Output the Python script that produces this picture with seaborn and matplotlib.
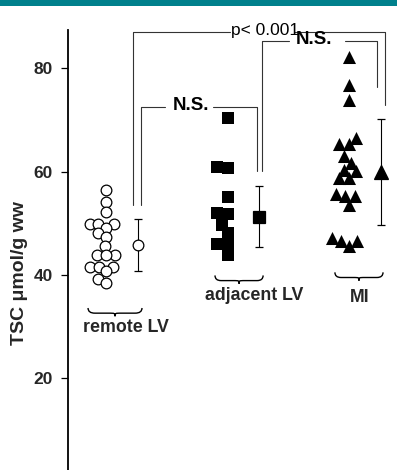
import numpy as np
import pandas as pd
import matplotlib
matplotlib.use("Agg")
import matplotlib.pyplot as plt
import seaborn as sns
from matplotlib.path import Path
from matplotlib.patches import PathPatch, Rectangle

# ---------------- data ----------------
groups = ["remote LV", "adjacent LV", "MI"]
remote_lv = [56.5, 54.2, 52.1, 49.9, 49.9, 49.9, 49.1, 48.1, 47.4, 45.5,
             43.9, 43.9, 43.9, 41.6, 41.6, 41.6, 40.7, 39.2, 38.5]
adjacent_lv = [70.3, 60.8, 60.6, 55.1, 52.0, 51.7, 49.7, 48.1, 46.0, 45.8, 43.9]
mi = [82.1, 76.7, 73.8, 66.5, 65.3, 65.3, 63.0, 61.7, 60.4, 60.1, 58.8, 58.8,
      55.6, 55.3, 55.3, 53.6, 47.2, 46.5, 46.5, 45.5]
group_means = [45.8, 51.3, 59.9]
group_sds = [5.1, 5.85, 10.2]
yticks = [0, 20, 40, 60, 80]
ylabel = "TSC \u03bcmol/g ww"
comparison_labels = ["N.S.", "N.S.", "p< 0.001"]

df = pd.DataFrame({
    "group": ["remote LV"] * len(remote_lv) + ["adjacent LV"] * len(adjacent_lv) + ["MI"] * len(mi),
    "value": remote_lv + adjacent_lv + mi,
})

# ---------------- style ----------------
sns.set_style("white")
plt.rcParams["font.family"] = ["Liberation Sans", "DejaVu Sans"]

W, H = 397, 470
fig = plt.figure(figsize=(W / 100, H / 100), dpi=100)
ax = fig.add_axes([68 / W, (H - 481.6) / H, (W - 68) / W, (481.6 - 30) / H])

markers = {"remote LV": "o", "adjacent LV": "s", "MI": "^"}
sizes = {"remote LV": 7.7, "adjacent LV": 9.0, "MI": 9.4}
layout_sizes = {"remote LV": 6.0, "adjacent LV": 7.0, "MI": 6.8}

swarms = []
for g in groups:
    sub = df[df["group"] == g]
    n_before = len(ax.collections)
    sns.swarmplot(data=sub, x="group", y="value", order=groups, ax=ax,
                  marker=markers[g], size=layout_sizes[g], color="black",
                  linewidth=0, warn_thresh=1)
    swarms.append((list(ax.collections[n_before:]), g))

ax.set_xlim(-0.313, 2.395)
ax.set_ylim(0, 87.4)

# let seaborn's beeswarm place points with a tight collision diameter,
# then redraw them at the full marker size (points overlap as in the source)
fig.canvas.draw()
for colls, g in swarms:
    pts = []
    for coll in colls:
        off = np.asarray(coll.get_offsets())
        if off.size:
            pts.append(off)
        coll.remove()
    xy = np.vstack(pts)
    face = "white" if g == "remote LV" else "black"
    ax.scatter(xy[:, 0], xy[:, 1], s=sizes[g] ** 2, marker=markers[g],
               facecolors=face, edgecolors="black",
               linewidths=0.9 if g == "remote LV" else 0, zorder=3)

# mean +/- SD markers to the right of each group
offset = 0.263
for i, g in enumerate(groups):
    face = "white" if g == "remote LV" else "black"
    ax.errorbar(i + offset, group_means[i], yerr=group_sds[i], fmt=markers[g],
                ms=sizes[g], mfc=face, mec="black", mew=0.9, ecolor="black",
                elinewidth=0.8, capsize=3.2, capthick=0.8, zorder=5)

ax.set_xlim(-0.313, 2.395)
ax.set_ylim(0, 87.4)
ax.set_yticks(yticks)
ax.set_yticklabels([str(t) for t in yticks], fontweight="bold", fontsize=12.5)
ax.tick_params(axis="y", length=5, width=0.9, pad=6, left=True, color="black")
ax.set_xticks([])
ax.set_xlabel("")
ax.set_ylabel(ylabel, fontsize=14, fontweight="bold")
ax.yaxis.set_label_coords(-0.122, 0.4616)
for s in ["top", "right", "bottom"]:
    ax.spines[s].set_visible(False)
ax.spines["left"].set_color("black")
ax.spines["left"].set_linewidth(1.3)

# ---------------- significance brackets ----------------
bcol = "#333333"
blw = 0.8
brackets = [
    # x_left, x_right, y_top, y_left_bottom, y_right_bottom, text_x, gap_l, gap_r, weight, size
    (0.286, 1.240, 72.5, 53.5, 60.2, 0.700, 0.486, 0.881, "bold", 13.5),
    (1.286, 2.230, 85.3, 60.2, 76.3, 1.712, 1.506, 1.967, "bold", 13.5),
    (0.222, 2.296, 87.1, 53.5, 72.8, 1.309, 1.021, 1.547, "normal", 12.5),
]
for (xl, xr, yt, ylb, yrb, tx, gl, gr, wt, fs), lab in zip(brackets, comparison_labels):
    ax.plot([xl, xl, gl], [ylb, yt, yt], color=bcol, lw=blw, clip_on=False)
    ax.plot([gr, xr, xr], [yt, yt, yrb], color=bcol, lw=blw, clip_on=False)
    ax.text(tx, yt + 0.3, lab, ha="center", va="center", fontsize=fs,
            fontweight=wt, color="black")

# ---------------- braces + group labels ----------------
def brace(xc, half, y, h):
    x0, x1 = xc - half, xc + half
    q = half * 0.25
    verts = [(x0, y + h), (x0, y), (x0 + q, y), (xc - q, y),
             (xc, y), (xc, y), (xc, y - h * 0.6),
             (xc, y), (xc, y), (xc + q, y), (x1 - q, y),
             (x1, y), (x1, y + h)]
    codes = [Path.MOVETO, Path.CURVE3, Path.CURVE3, Path.LINETO,
             Path.CURVE4, Path.CURVE4, Path.CURVE4,
             Path.CURVE4, Path.CURVE4, Path.CURVE4, Path.LINETO,
             Path.CURVE3, Path.CURVE3]
    ax.add_patch(PathPatch(Path(verts, codes), fc="none", ec="black", lw=1.0,
                           clip_on=False))

brace_specs = [(0.074, 0.222, 32.6), (1.095, 0.198, 38.9), (2.082, 0.198, 39.5)]
label_specs = [(0.165, 29.8), (1.218, 36.0), (2.091, 35.6)]
for g, (bx, bh, by), (lx, ly) in zip(groups, brace_specs, label_specs):
    brace(bx, bh, by, 1.0)
    ax.text(lx, ly, g, ha="center", va="center", fontsize=12.8, fontweight="bold")

# teal header strip
fig.add_artist(Rectangle((0, 1 - 6 / H), 1, 6 / H, transform=fig.transFigure,
                         color="#00808C", lw=0))

fig.savefig("out.png", dpi=100)
